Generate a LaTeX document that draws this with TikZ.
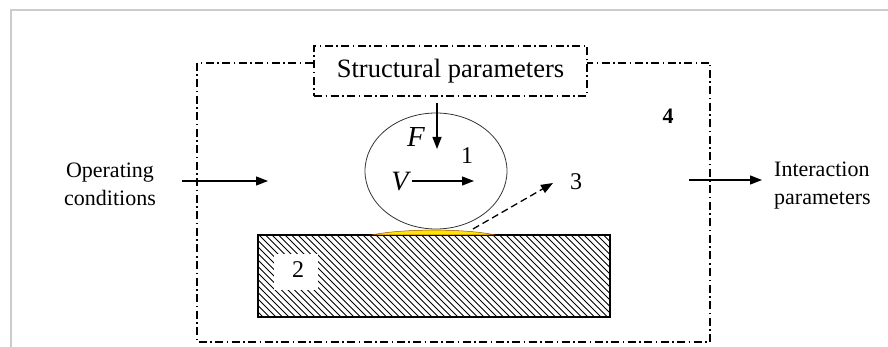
\documentclass[tikz,border=0pt]{standalone}
\usepackage{fontspec}
\setmainfont{Liberation Serif}
\usetikzlibrary{arrows.meta,shapes.geometric}
\begin{document}
\begin{tikzpicture}[x=1pt,y=-1pt,
  dashdot/.style={line width=1.1pt, dash pattern=on 8pt off 3.5pt on 1.5pt off 3.5pt},
  arr/.style={line width=1.3pt, -{Triangle[length=12pt,width=9pt]}},
  lbl/.style={font=\fontsize{22}{28}\selectfont, align=left, inner sep=0pt},
  num/.style={font=\fontsize{24}{26}\selectfont, inner sep=0pt}]
\useasboundingbox (0,0) rectangle (888,347);
% faint frame
\draw[gray!40, line width=1.2pt] (11,347) -- (11,10) -- (888,10);
% outer system boundary
\draw[dashdot] (197,63) rectangle (710,342);
% structural parameters box
\node[dashdot, draw, fill=white, minimum width=273pt, minimum height=50pt, inner sep=0pt,
  font=\fontsize{26.5}{30}\selectfont] (sp) at (450.5,71) {Structural parameters};
% hatched body
\coordinate (bodyNW) at (258,235);
\coordinate (bodySE) at (610,317);
\begin{scope}
  \clip (bodyNW) rectangle (bodySE);
  \foreach \i in {-90,-83.5,...,360} {
    \draw[line width=0.85pt] (258+\i,235) -- ++(82,82);
  }
  \fill[white] (274,254) rectangle (318,290);
\end{scope}
\draw[line width=1.3pt] (bodyNW) rectangle (bodySE);
\node[num] (two) at (298,270) {2};
% contact zone
\fill[yellow!90!orange, draw=orange!60!black, line width=0.5pt]
  (372,235) .. controls (400,228.5) and (468,228.5) .. (495,235) -- cycle;
% counterbody ellipse
\node[draw=black!80, ellipse, line width=0.8pt, minimum width=142pt, minimum height=116pt, inner sep=0pt] (body1) at (436,171) {};
\node[num] (one) at (467,156) {1};
% force F
\coordinate (Fs) at (437,103);
\coordinate (Fe) at (437,149);
\draw[arr] (Fs) -- (Fe);
\node[font=\fontsize{29}{30}\selectfont\itshape, inner sep=0pt] (F) at (416,137) {F};
% velocity V
\node[font=\fontsize{28}{30}\selectfont\itshape, inner sep=0pt] (V) at (400,182) {V};
\coordinate (Ve) at (474,181);
\draw[arr] (V.east |- Ve) ++(3pt,0) -- (Ve);
% wear debris 3
\coordinate (d0) at (473,229);
\coordinate (d1) at (553,183);
\draw[line width=1.3pt, dash pattern=on 7pt off 4pt, -{Triangle[length=12pt,width=9pt]}] (d0) -- (d1);
\node[num] (three) at (576,182) {3};
% label 4
\node[inner sep=0pt, font=\fontsize{22}{24}\selectfont\bfseries] (four) at (668,116) {4};
% operating conditions
\node[lbl, align=center] (op) at (110,184) {Operating\\conditions};
\coordinate (opS) at (182,181);
\coordinate (opE) at (268,181);
\draw[arr] (opS) -- (opE);
% interaction parameters
\node[lbl, anchor=west] (ip) at (774,186) {Interaction\\parameters};
\coordinate (ipS) at (689,180);
\coordinate (ipE) at (762,180);
\draw[arr] (ipS) -- (ipE);
\end{tikzpicture}
\end{document}
